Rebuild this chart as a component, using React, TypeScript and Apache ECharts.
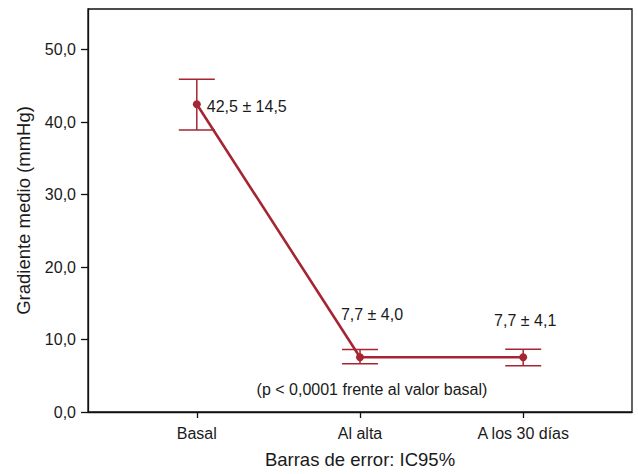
import React, { useEffect, useRef } from "react";
import * as echarts from "echarts";

const categories = ["Basal", "Al alta", "A los 30 días"];
const means = [42.45, 7.55, 7.55];
const ciLow = [38.9, 6.64, 6.37];
const ciHigh = [45.9, 8.63, 8.67];
const pointLabels = ["42,5 ± 14,5", "7,7 ± 4,0", "7,7 ± 4,1"];
const yTicks = [0, 10, 20, 30, 40, 50];
const xTicks = [0, 1, 2];
const note = "(p < 0,0001 frente al valor basal)";

const RED = "#a52632";
const FONT = "Liberation Sans, Arial, sans-serif";
const TXT = "#1a1a1a";
const FS = 16;

export default function App() {
  const ref = useRef<HTMLDivElement>(null);
  useEffect(() => {
    if (!ref.current) return;
    const chart = echarts.init(ref.current, undefined, { renderer: "svg" });
    const labelCfg = [
      { position: "right", distance: 6, offset: [0, 2] },
      { position: "top", distance: 31, offset: [12, 0] },
      { position: "top", distance: 25, offset: [2, 0] },
    ];
    const lineData = means.map((m, i) => ({
      value: [xTicks[i], m],
      label: {
        show: true,
        formatter: pointLabels[i],
        color: TXT,
        fontFamily: FONT,
        fontSize: FS,
        ...labelCfg[i],
      },
    }));
    const errData = means.map((_, i) => [xTicks[i], ciLow[i], ciHigh[i]]);
    chart.setOption({
      animation: false,
      backgroundColor: "#ffffff",
      textStyle: { fontFamily: FONT },
      grid: {
        left: 88,
        right: 6,
        top: 9,
        bottom: 55,
        show: true,
        borderColor: "#111",
        borderWidth: 1.3,
        backgroundColor: "transparent",
      },
      xAxis: {
        type: "value",
        min: -2 / 3,
        max: 8 / 3,
        name: "Barras de error: IC95%",
        nameLocation: "middle",
        nameGap: 38,
        nameTextStyle: { fontSize: 18.5, color: TXT, fontFamily: FONT },
        splitLine: { show: false },
        axisLine: { show: true, onZero: false, lineStyle: { color: "#111", width: 1.3 } },
        axisTick: {
          show: true,
          customValues: xTicks,
          length: 6,
          lineStyle: { color: "#111", width: 1.3 },
        },
        axisLabel: {
          customValues: xTicks,
          formatter: (v: number) => categories[Math.round(v)] ?? "",
          fontSize: FS,
          color: TXT,
          fontFamily: FONT,
          margin: 13,
        },
      },
      yAxis: {
        type: "value",
        min: 0,
        max: 55.6,
        name: "Gradiente medio (mmHg)",
        nameLocation: "middle",
        nameRotate: 90,
        nameGap: 55,
        nameTextStyle: { fontSize: 18.5, color: TXT, fontFamily: FONT },
        splitLine: { show: false },
        axisLine: { show: true, onZero: false, lineStyle: { color: "#111", width: 1.3 } },
        axisTick: {
          show: true,
          customValues: yTicks,
          length: 7,
          lineStyle: { color: "#111", width: 1.3 },
        },
        axisLabel: {
          customValues: yTicks,
          formatter: (v: number) => v.toFixed(1).replace(".", ","),
          fontSize: FS,
          color: TXT,
          fontFamily: FONT,
          margin: 12,
        },
      },
      series: [
        {
          type: "custom",
          data: errData,
          encode: { x: 0, y: [1, 2] },
          z: 2,
          renderItem: (params: any, api: any) => {
            const x = api.value(0);
            const lo = api.coord([x, api.value(1)]);
            const hi = api.coord([x, api.value(2)]);
            const hw = 18;
            const style = { stroke: RED, lineWidth: 1.5 };
            return {
              type: "group",
              children: [
                { type: "line", shape: { x1: hi[0], y1: hi[1], x2: lo[0], y2: lo[1] }, style },
                { type: "line", shape: { x1: hi[0] - hw, y1: hi[1], x2: hi[0] + hw, y2: hi[1] }, style },
                { type: "line", shape: { x1: lo[0] - hw, y1: lo[1], x2: lo[0] + hw, y2: lo[1] }, style },
              ],
            };
          },
        },
        {
          type: "line",
          data: lineData,
          z: 3,
          symbol: "circle",
          symbolSize: 8,
          itemStyle: { color: RED },
          lineStyle: { color: RED, width: 2.6 },
        },
      ],
      graphic: [
        {
          type: "text",
          x: 372,
          y: 389,
          style: {
            text: note,
            fill: TXT,
            font: `${FS}px ${FONT}`,
            align: "center",
            verticalAlign: "middle",
          },
        },
      ],
    });
    return () => chart.dispose();
  }, []);
  return (
    <div
      ref={ref}
      style={{ position: "fixed", left: 0, top: 0, width: 638, height: 474 }}
    />
  );
}
